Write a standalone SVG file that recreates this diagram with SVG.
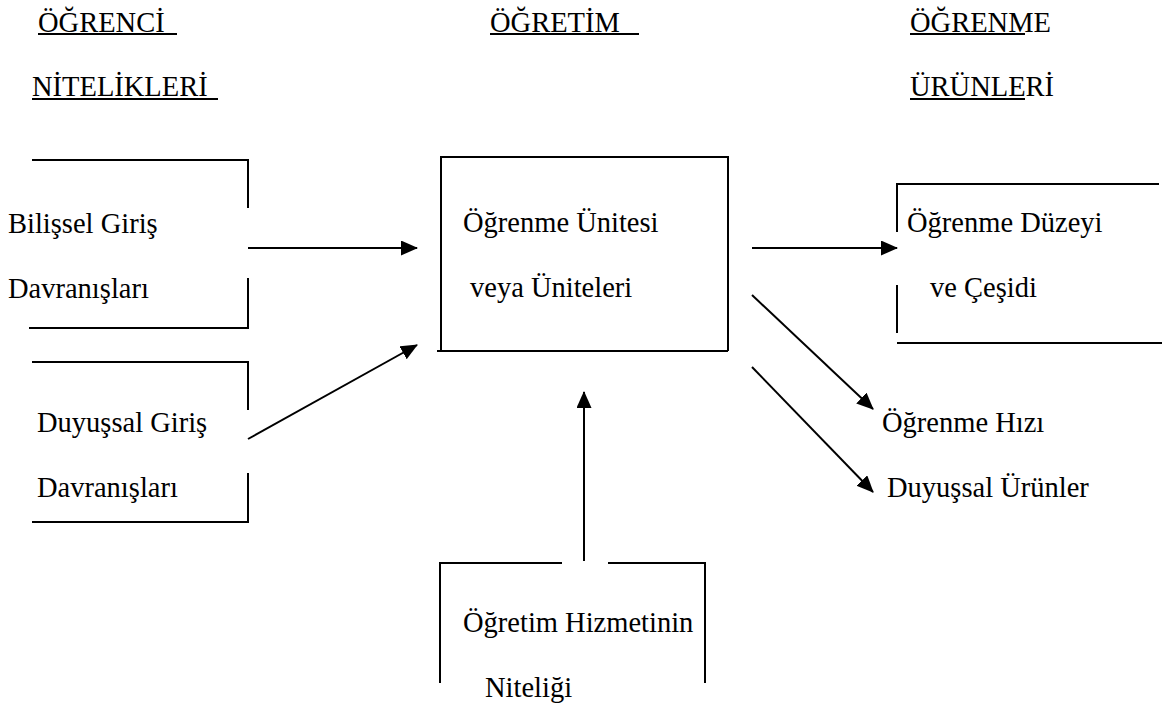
<svg xmlns="http://www.w3.org/2000/svg" width="1165" height="708" viewBox="0 0 1165 708">
<style>
text { font-family: "Liberation Serif", "Times New Roman", serif; font-size: 28.5px; fill: #000; }
.ln { stroke: #000; stroke-width: 2; fill: none; }
.ul { stroke: #000; stroke-width: 2; }
.ar { stroke: #000; stroke-width: 2; fill: none; marker-end: url(#ah); }
</style>
<defs>
<marker id="ah" markerUnits="userSpaceOnUse" markerWidth="18" markerHeight="16" refX="16" refY="7.5" orient="auto">
<path d="M0,0 L17,7.5 L0,15 z" fill="#000"/>
</marker>
</defs>
<rect width="1165" height="708" fill="#fff"/>

<g id="headers">
<text x="38" y="31.5">ÖĞRENCİ</text>
<line class="ul" x1="38" y1="34" x2="177" y2="34"/>
<text x="32" y="95.5">NİTELİKLERİ</text>
<line class="ul" x1="32" y1="99" x2="218" y2="99"/>
<text x="490" y="31.5">ÖĞRETİM</text>
<line class="ul" x1="490" y1="34" x2="639" y2="34"/>
<text x="910" y="31.5">ÖĞRENME</text>
<line class="ul" x1="910" y1="34" x2="1025" y2="34"/>
<text x="910" y="95.5">ÜRÜNLERİ</text>
<line class="ul" x1="910" y1="99" x2="1025" y2="99"/>
</g>

<g id="bilissel">
<path class="ln" d="M32,160 H248 V208 M248,278 V328 H29"/>
<text x="8" y="233">Bilişsel Giriş</text>
<text x="8" y="298">Davranışları</text>
</g>

<g id="duyussal">
<path class="ln" d="M32,362 H248 V410 M248,473 V522 H32"/>
<text x="37" y="432">Duyuşsal Giriş</text>
<text x="37" y="497">Davranışları</text>
</g>

<g id="unite">
<path class="ln" d="M441,351 V157 H728 V351 M437,351 H728"/>
<text x="463" y="232">Öğrenme Ünitesi</text>
<text x="470" y="297">veya Üniteleri</text>
</g>

<g id="duzey">
<path class="ln" d="M1159,184 H897 V232 M897,285 V333 M897,343 H1162"/>
<text x="907" y="232">Öğrenme Düzeyi</text>
<text x="930" y="297">ve Çeşidi</text>
</g>

<g id="hiz">
<text x="882" y="432">Öğrenme Hızı</text>
</g>

<g id="duyussal-urunler">
<text x="887" y="497">Duyuşsal Ürünler</text>
</g>

<g id="hizmet">
<path class="ln" d="M440,683 V563 H562 M608,563 H705 V683"/>
<text x="463" y="632">Öğretim Hizmetinin</text>
<text x="485" y="697">Niteliği</text>
</g>

<g id="connectors">
<line class="ar" x1="248" y1="248" x2="417" y2="248"/>
<line class="ar" x1="248" y1="439" x2="417" y2="345"/>
<line class="ar" x1="584" y1="561" x2="584" y2="392"/>
<line class="ar" x1="752" y1="248" x2="897" y2="248"/>
<line class="ar" x1="752" y1="295" x2="873" y2="409"/>
<line class="ar" x1="752" y1="367" x2="873" y2="492"/>
</g>
</svg>
